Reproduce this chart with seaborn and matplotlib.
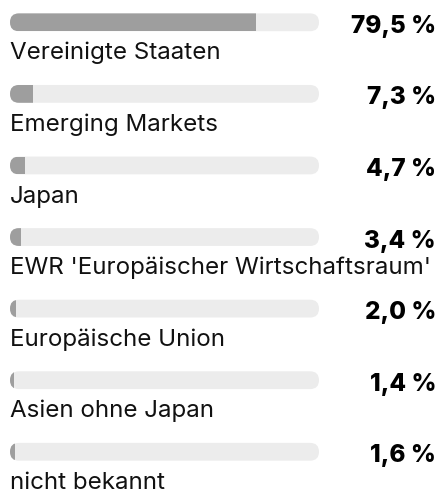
import matplotlib
matplotlib.use("Agg")
import matplotlib.pyplot as plt
import seaborn as sns
import pandas as pd
from matplotlib.patches import FancyBboxPatch

# Data
regions = [
    "Vereinigte Staaten",
    "Emerging Markets",
    "Japan",
    "EWR 'Europäischer Wirtschaftsraum'",
    "Europäische Union",
    "Asien ohne Japan",
    "nicht bekannt",
]
shares = [79.5, 7.3, 4.7, 3.4, 2.0, 1.4, 1.6]
value_labels = ["79,5 %", "7,3 %", "4,7 %", "3,4 %", "2,0 %", "1,4 %", "1,6 %"]
scale_max = 100

sns.set_theme(style="white")
plt.rcParams["font.family"] = ["Inter", "DejaVu Sans"]

df = pd.DataFrame({"region": regions, "share": shares,
                   "total": [scale_max] * len(shares)})

W, H = 439, 492
fig = plt.figure(figsize=(W / 100, H / 100), dpi=100)
ax = fig.add_axes([0, 0, 1, 1])

# layout in pixels
track_left, track_right = 10, 319
row_first, row_step = 22.3, 71.58
bar_h = 17.8 / row_step

TRACK = "#ececec"
FILL = "#9e9e9e"

sns.barplot(data=df, x="total", y="region", orient="h", color=TRACK,
            saturation=1, width=bar_h, ax=ax)
tracks = list(ax.patches)
sns.barplot(data=df, x="share", y="region", orient="h", color=FILL,
            saturation=1, width=bar_h, ax=ax)
fills = list(ax.patches)[len(tracks):]

ppx = (track_right - track_left) / scale_max
ax.set_xlim(-track_left / ppx, (W - track_left) / ppx)
ax.set_ylim((H - row_first) / row_step, -row_first / row_step)
ax.axis("off")

# aspect between x and y data units (pixels per unit)
m_aspect = ppx / row_step

for t, f in zip(tracks, fills):
    x, y, w, h = t.get_x(), t.get_y(), t.get_width(), t.get_height()
    t.set_visible(False)
    r = (h / m_aspect) / 2
    rounded = FancyBboxPatch((x, y), w, h,
                             boxstyle=f"round,pad=0,rounding_size={r}",
                             mutation_aspect=m_aspect,
                             facecolor=TRACK, edgecolor="none", zorder=0.5)
    ax.add_patch(rounded)
    f.set_zorder(1)
    f.set_edgecolor("none")
    f.set_clip_path(rounded)

value_x = (436 - track_left) / ppx
for i, (name, lab) in enumerate(zip(regions, value_labels)):
    ax.text(0, i + 37.2 / row_step, name, ha="left", va="baseline",
            fontsize=17.4, color="#111111")
    ax.text(value_x, i + 10.5 / row_step, lab, ha="right", va="baseline",
            fontsize=17.5, fontweight="heavy", color="#000000")

fig.savefig("out.png", dpi=100)
